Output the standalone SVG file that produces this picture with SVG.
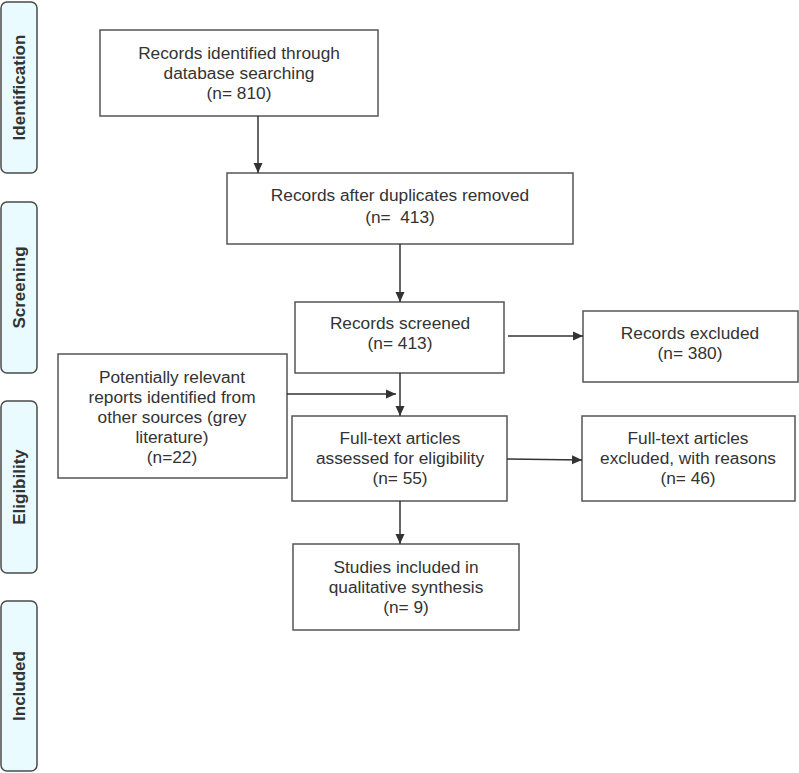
<svg xmlns="http://www.w3.org/2000/svg" width="799" height="773" viewBox="0 0 799 773">
<style>
.stage rect{fill:#e9fbfe;stroke:#4a4a4a;stroke-width:1.5}
.stage text{font-family:"Liberation Sans",Arial,sans-serif;font-size:17px;font-weight:bold;fill:#333;text-anchor:middle}
.node rect{fill:#fff;stroke:#555;stroke-width:1.5}
.node text{font-family:"Liberation Sans",Arial,sans-serif;font-size:17.3px;fill:#333;text-anchor:middle}
.conn line{stroke:#333;stroke-width:1.5;marker-end:url(#ah)}
</style>
<defs>
<marker id="ah" viewBox="0 0 10 10" refX="10" refY="5" markerWidth="10" markerHeight="10" markerUnits="userSpaceOnUse" orient="auto">
<path d="M0,0.5 L10,5 L0,9.5 z" fill="#333"/>
</marker>
</defs>
<rect width="799" height="773" fill="#fff"/>
<g class="stage" id="stage-identification"><rect x="1" y="2" width="36" height="171" rx="6"/><text transform="translate(25,87.5) rotate(-90)">Identification</text></g>
<g class="stage" id="stage-screening"><rect x="1" y="202" width="36" height="171" rx="6"/><text transform="translate(25,287.5) rotate(-90)">Screening</text></g>
<g class="stage" id="stage-eligibility"><rect x="1" y="401" width="36" height="172" rx="6"/><text transform="translate(25,487) rotate(-90)">Eligibility</text></g>
<g class="stage" id="stage-included"><rect x="1" y="601" width="36" height="170" rx="6"/><text transform="translate(25,686) rotate(-90)">Included</text></g>

<g class="node" id="n-identified"><rect x="100" y="30" width="278" height="86"/>
<text x="239" y="59">Records identified through</text><text x="239" y="79">database searching</text><text x="239" y="99">(n= 810)</text></g>
<g class="node" id="n-dedup"><rect x="227" y="173" width="346" height="71"/>
<text x="400" y="201">Records after duplicates removed</text><text x="400" y="223" xml:space="preserve">(n=  413)</text></g>
<g class="node" id="n-screened"><rect x="295" y="302" width="209" height="71"/>
<text x="400" y="329">Records screened</text><text x="400" y="349">(n= 413)</text></g>
<g class="node" id="n-excluded"><rect x="583" y="311" width="215" height="71"/>
<text x="690" y="339">Records excluded</text><text x="690" y="359">(n= 380)</text></g>
<g class="node" id="n-other"><rect x="58" y="354" width="229" height="124"/>
<text x="172" y="383">Potentially relevant</text><text x="172" y="403">reports identified from</text><text x="172" y="423">other sources (grey</text><text x="172" y="443">literature)</text><text x="172" y="463">(n=22)</text></g>
<g class="node" id="n-fulltext"><rect x="292" y="416" width="215" height="85"/>
<text x="400" y="444">Full-text articles</text><text x="400" y="464">assessed for eligibility</text><text x="400" y="484">(n= 55)</text></g>
<g class="node" id="n-ftexcluded"><rect x="582" y="416" width="213" height="85"/>
<text x="688" y="444">Full-text articles</text><text x="688" y="464">excluded, with reasons</text><text x="688" y="484">(n= 46)</text></g>
<g class="node" id="n-included"><rect x="293" y="544" width="226" height="86"/>
<text x="406" y="573">Studies included in</text><text x="406" y="593">qualitative synthesis</text><text x="406" y="613">(n= 9)</text></g>

<g class="conn" id="connectors">
<line x1="258" y1="116" x2="258" y2="173"/>
<line x1="400" y1="244" x2="400" y2="302"/>
<line x1="400" y1="373" x2="400" y2="416"/>
<line x1="508" y1="336" x2="583" y2="336"/>
<line x1="287" y1="394" x2="396" y2="394"/>
<line x1="507" y1="459" x2="582" y2="460"/>
<line x1="400" y1="501" x2="400" y2="544"/>
</g>
</svg>
